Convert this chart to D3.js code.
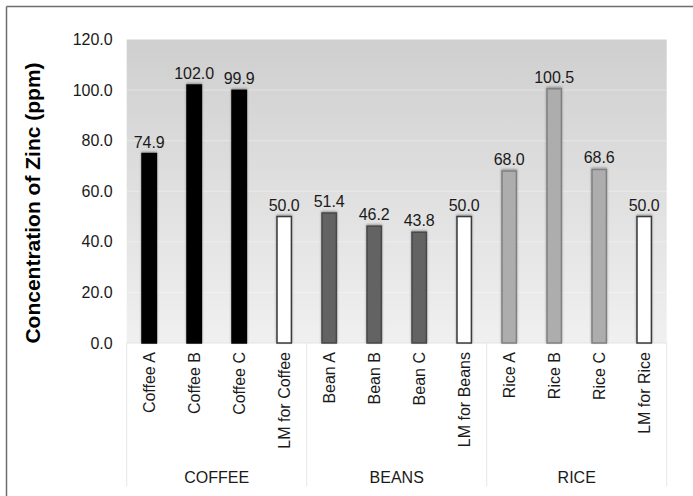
<!DOCTYPE html>
<html>
<head>
<meta charset="utf-8">
<script src="https://cdn.jsdelivr.net/npm/d3@7/dist/d3.min.js"></script>
<style>
  html, body { margin: 0; padding: 0; background: #fff; }
  svg { display: block; font-family: "Liberation Sans", Arial, sans-serif; }
</style>
</head>
<body>
<svg id="chart" width="693" height="496"></svg>
<script>
// Zinc concentration per sample, with the legal limit (LM) for each food group
const categories = ["Coffee A", "Coffee B", "Coffee C", "LM for Coffee",
                    "Bean A", "Bean B", "Bean C", "LM for Beans",
                    "Rice A", "Rice B", "Rice C", "LM for Rice"];
const values = [74.9, 102.0, 99.9, 50.0,
                51.4, 46.2, 43.8, 50.0,
                68.0, 100.5, 68.6, 50.0];
const groups = ["COFFEE", "BEANS", "RICE"];
const groupOf = [0, 0, 0, 0, 1, 1, 1, 1, 2, 2, 2, 2];
const isLimit = [false, false, false, true, false, false, false, true, false, false, false, true];
const yTicks = [0, 20, 40, 60, 80, 100, 120];
const yTitle = "Concentration of Zinc (ppm)";

const svg = d3.select("#chart");
const W = 693, H = 496;
const plot = { left: 126.7, right: 666.7, top: 39.5, bottom: 343 };

// frame lines along top and left
svg.append("line").attr("x1", 6.5).attr("x2", W).attr("y1", 6.5).attr("y2", 6.5)
  .attr("stroke", "#6e6e6e").attr("stroke-width", 1.5);
svg.append("line").attr("x1", 6.5).attr("x2", 6.5).attr("y1", 6.5).attr("y2", H)
  .attr("stroke", "#6e6e6e").attr("stroke-width", 1.5);

const x = d3.scaleBand().domain(categories).range([plot.left, plot.right]).paddingInner(0.68).paddingOuter(0.34);
const y = d3.scaleLinear().domain([0, 120]).range([plot.bottom, plot.top]);

const defs = svg.append("defs");
const grad = defs.append("linearGradient").attr("id", "bg").attr("x1", 0).attr("x2", 0).attr("y1", 0).attr("y2", 1);
grad.append("stop").attr("offset", "0%").attr("stop-color", "#cfcfcf");
grad.append("stop").attr("offset", "100%").attr("stop-color", "#f0f0f0");

const shadow = defs.append("filter").attr("id", "shadow").attr("x", "-30%").attr("y", "-10%").attr("width", "160%").attr("height", "120%");
shadow.append("feDropShadow").attr("dx", 0).attr("dy", -1).attr("stdDeviation", 1.2)
  .attr("flood-color", "#000").attr("flood-opacity", 0.35);

// plot background
svg.append("rect").attr("x", plot.left).attr("y", plot.top)
  .attr("width", plot.right - plot.left).attr("height", plot.bottom - plot.top)
  .attr("fill", "url(#bg)");

// faint gridlines
svg.append("g").selectAll("line").data(yTicks.slice(1, -1)).join("line")
  .attr("x1", plot.left).attr("x2", plot.right)
  .attr("y1", d => y(d)).attr("y2", d => y(d))
  .attr("stroke", "#ffffff").attr("stroke-opacity", 0.35).attr("stroke-width", 1);

// y axis labels
const yAxis = d3.axisLeft(y).tickValues(yTicks).tickFormat(d3.format(".1f")).tickSize(0).tickPadding(14);
const yG = svg.append("g").attr("transform", `translate(${plot.left},0)`).call(yAxis);
yG.select(".domain").remove();
yG.selectAll("text").attr("font-size", 16).attr("fill", "#1a1a1a")
  .attr("font-family", "Liberation Sans, Arial, sans-serif");

// y axis title
svg.append("text")
  .attr("transform", `translate(40,203) rotate(-90)`)
  .attr("text-anchor", "middle")
  .attr("font-size", 21).attr("font-weight", "bold").attr("fill", "#000")
  .text(yTitle);

// category axis: baseline, group separators
svg.append("line").attr("x1", plot.left).attr("x2", plot.right)
  .attr("y1", plot.bottom).attr("y2", plot.bottom)
  .attr("stroke", "#e3e3e3").attr("stroke-width", 1);

const step = x.step();
const bounds = [0, 4, 8, 12].map(i => plot.left + i * step);
svg.append("g").selectAll("line").data(bounds).join("line")
  .attr("x1", d => d).attr("x2", d => d)
  .attr("y1", plot.bottom).attr("y2", 486)
  .attr("stroke", "#e6e6e6").attr("stroke-width", 1);

// bars
const fillFor = i => isLimit[i] ? "#ffffff" : ["#000000", "#646464", "#adadad"][groupOf[i]];
const strokeFor = i => isLimit[i] ? "#3a3a3a" : ["#000000", "#474747", "#808080"][groupOf[i]];

svg.append("g").selectAll("rect").data(values).join("rect")
  .attr("x", (d, i) => x(categories[i]))
  .attr("y", d => y(d))
  .attr("width", x.bandwidth())
  .attr("height", d => y(0) - y(d))
  .attr("fill", (d, i) => fillFor(i))
  .attr("stroke", (d, i) => strokeFor(i))
  .attr("stroke-width", 1.5)
  .attr("filter", "url(#shadow)");

// value labels
svg.append("g").selectAll("text").data(values).join("text")
  .attr("x", (d, i) => x(categories[i]) + x.bandwidth() / 2)
  .attr("y", d => y(d) - 6)
  .attr("text-anchor", "middle")
  .attr("font-size", 16).attr("fill", "#1a1a1a")
  .text(d => d3.format(".1f")(d));

// rotated category labels
svg.append("g").selectAll("text").data(categories).join("text")
  .attr("transform", d => `translate(${x(d) + x.bandwidth() / 2},352) rotate(-90)`)
  .attr("text-anchor", "end")
  .attr("dy", "0.35em")
  .attr("font-size", 16).attr("fill", "#1a1a1a")
  .text(d => d);

// group labels
svg.append("g").selectAll("text").data(groups).join("text")
  .attr("x", (d, i) => (bounds[i] + bounds[i + 1]) / 2)
  .attr("y", 483)
  .attr("text-anchor", "middle")
  .attr("font-size", 16).attr("fill", "#1a1a1a")
  .text(d => d);
</script>
</body>
</html>
